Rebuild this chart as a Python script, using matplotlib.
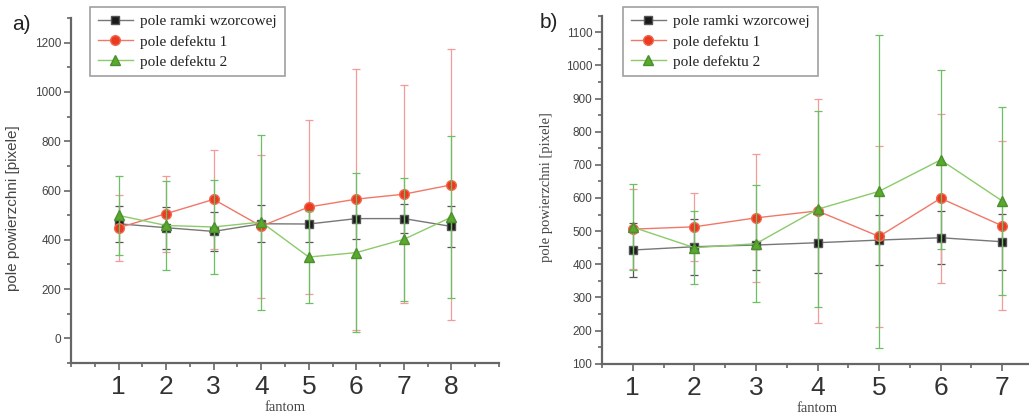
import matplotlib
matplotlib.use("Agg")
import matplotlib.pyplot as plt
from matplotlib.lines import Line2D
from matplotlib.ticker import MultipleLocator

# panel a)
fantom_a = [1, 2, 3, 4, 5, 6, 7, 8]
ramka_a = [465, 449, 434, 465, 464, 486, 486, 454]
ramka_a_err = [74, 86, 80, 75, 72, 84, 60, 82]
defekt1_a = [449, 506, 564, 455, 533, 565, 585, 623]
defekt1_a_err = [134, 154, 200, 290, 353, 530, 442, 550]
defekt2_a = [499, 458, 452, 472, 330, 348, 402, 492]
defekt2_a_err = [160, 180, 190, 355, 187, 324, 250, 330]

# panel b)
fantom_b = [1, 2, 3, 4, 5, 6, 7]
ramka_b = [443, 453, 458, 465, 473, 480, 468]
ramka_b_err = [82, 85, 75, 92, 76, 80, 85]
defekt1_b = [506, 513, 540, 561, 484, 599, 516]
defekt1_b_err = [120, 103, 193, 338, 274, 254, 255]
defekt2_b = [512, 450, 462, 566, 620, 715, 591]
defekt2_b_err = [130, 110, 177, 295, 472, 270, 283]

labels = ["pole ramki wzorcowej", "pole defektu 1", "pole defektu 2"]

AXC = "#666666"
TXT = "#444444"

styles = [
    dict(marker="s", color="#777777", mfc="#1a1a1a", mec="#555555", ms=6),
    dict(marker="o", color="#f07868", mfc="#ea3a22", mec="#f06a50", ms=7),
    dict(marker="^", color="#8acb6a", mfc="#5aa82c", mec="#4a9030", ms=7),
]
ecolors = ["#555555", "#f39a9a", "#6cc064"]


def draw_panel(ax, x, series, xlim, ylim, ymajor, yminor):
    for (y, e), st, ec, z in zip(series, styles, ecolors, [3, 4, 5]):
        ax.errorbar(x, y, yerr=e, fmt="-", lw=1.0, elinewidth=0.9, capsize=3,
                    capthick=0.9, ecolor=ec, zorder=z, **st)
    ax.set_xlim(*xlim)
    ax.set_ylim(*ylim)
    ax.set_xticks(x)
    ax.xaxis.set_minor_locator(MultipleLocator(0.5))
    ax.yaxis.set_major_locator(MultipleLocator(ymajor))
    ax.yaxis.set_minor_locator(MultipleLocator(yminor))
    for s in ["top", "right"]:
        ax.spines[s].set_visible(False)
    for s in ["left", "bottom"]:
        ax.spines[s].set_color(AXC)
        ax.spines[s].set_linewidth(1.6)
    ax.tick_params(which="both", direction="out", color=AXC, width=1.2)
    ax.tick_params(which="major", length=5)
    ax.tick_params(which="minor", length=3)
    ax.tick_params(axis="y", labelsize=8.5, labelcolor=TXT, pad=2)
    ax.tick_params(axis="x", labelsize=19, labelcolor="#333333", pad=4)
    for t in ax.get_yticklabels():
        t.set_fontfamily("Liberation Sans")
    for t in ax.get_xticklabels():
        t.set_fontfamily("Liberation Sans")
    ax.set_xlabel("fantom", fontfamily="Liberation Serif", fontsize=10.5,
                  color=TXT, labelpad=1)


fig = plt.figure(figsize=(10.29, 4.16), dpi=100)

ax1 = fig.add_axes([71 / 1029, 53 / 416, 428 / 1029, 345 / 416])
draw_panel(ax1, fantom_a,
           [(ramka_a, ramka_a_err), (defekt1_a, defekt1_a_err), (defekt2_a, defekt2_a_err)],
           (0, 9), (-100, 1300), 200, 100)
ax1.set_ylabel("pole powierzchni [pixele]", fontfamily="Liberation Sans",
               fontsize=11, color=TXT)
ax1.yaxis.set_label_coords(20 / 1029, 0.5, transform=fig.transFigure)

ax2 = fig.add_axes([602 / 1029, 52.3 / 416, 431 / 1029, 348 / 416])
draw_panel(ax2, fantom_b,
           [(ramka_b, ramka_b_err), (defekt1_b, defekt1_b_err), (defekt2_b, defekt2_b_err)],
           (0.5, 7.5), (100, 1150), 100, 50)
ax2.set_ylabel("pole powierzchni [pixele]", fontfamily="Liberation Serif",
               fontsize=10.5, color=TXT)
ax2.yaxis.set_label_coords(553 / 1029, 0.55, transform=fig.transFigure)

# legend: line + marker only, no error bar
handles = [Line2D([], [], lw=1.0, **st) for st in styles]
for ax, x0 in [(ax1, 90), (ax2, 623)]:
    leg = ax.legend(handles, labels, loc="upper left",
                    bbox_to_anchor=(x0 / 1029, 1 - 7 / 416),
                    bbox_transform=fig.transFigure, borderaxespad=0,
                    prop={"family": "Liberation Serif", "size": 11},
                    frameon=True, fancybox=False, handlelength=2.3,
                    labelspacing=0.42, borderpad=0.5, handletextpad=0.5)
    leg.get_frame().set_edgecolor("#888888")
    leg.get_frame().set_linewidth(1.2)
    for t in leg.get_texts():
        t.set_color("#222222")

fig.text(12 / 1029, 1 - 24 / 416, "a)", fontsize=15, fontfamily="Liberation Sans",
         color="#222222", va="center")
fig.text(540 / 1029, 1 - 23 / 416, "b)", fontsize=15, fontfamily="Liberation Sans",
         color="#222222", va="center")

fig.savefig("out.png", dpi=100)
